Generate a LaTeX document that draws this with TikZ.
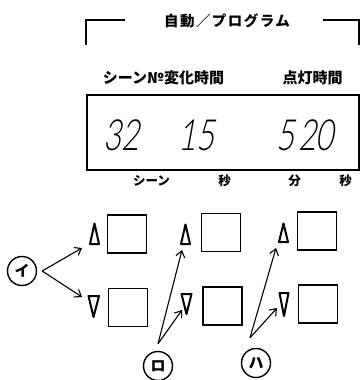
\documentclass[tikz,border=0pt]{standalone}
\usepackage{fontspec}
\newfontfamily\jp{Noto Sans CJK JP}
\newfontfamily\jpw{Noto Sans CJK JP}[LetterSpace=10]
\newfontfamily\segfont{Lato Light}[FakeSlant=0.18,FakeStretch=0.72]
\usetikzlibrary{arrows.meta}
\begin{document}
\begin{tikzpicture}[x=1pt,y=-1pt,
  jp/.style={font=\jp\bfseries\fontsize{15}{15}\selectfont, inner sep=0},
  jps/.style={font=\jp\bfseries\fontsize{12.5}{12.5}\selectfont, inner sep=0},
  key/.style={draw, line width=1.8pt, minimum width=39pt, minimum height=38pt, inner sep=0},
  tri/.style={line width=2pt, line join=round},
  lab/.style={draw, circle, line width=1.4pt, minimum size=29pt, inner sep=0, font=\jp\bfseries\fontsize{15}{15}\selectfont},
  arr/.style={-{Straight Barb[length=6pt,width=9pt]}, line width=1.1pt},
  seg/.style={font=\segfont\fontsize{43}{43}\selectfont, inner sep=0},
  brk/.style={line width=2pt}]
\useasboundingbox (0,0) rectangle (361,380);
% bracket and title
\draw[brk] (86,45) -- (86,20) -- (125,20);
\draw[brk] (323,20) -- (359,20) -- (359,45);
\node[font=\jpw\bfseries\fontsize{14.5}{14.5}\selectfont, inner sep=0] (title) at (227,21) {自動／プログラム};
% display labels
\node[jp] (lab1) at (163.5,78) {シーン№変化時間};
\node[jp] (lab2) at (312.5,78) {点灯時間};
\node[draw, line width=1.8pt, minimum width=272pt, minimum height=75pt, inner sep=0] (disp) at (223,132.5) {};
\node[seg] (d1) at (121.5,135) {32};
\node[seg] (d2) at (196.5,135) {15};
\node[seg] (d3) at (305,135) {5\kern4pt20};
\node[jps] (u1) at (151.5,181) {シーン};
\node[jps] (u2) at (224.5,181) {秒};
\node[jps] (u3) at (294.5,181) {分};
\node[jps] (u4) at (345.5,181) {秒};
% keys
\node[key] (k1) at (127,234) {};
\node[key] (k2) at (221,232.5) {};
\node[key] (k3) at (317,231) {};
\node[key] (k4) at (128,307.5) {};
\node[key] (k5) at (222.5,306) {};
\node[key] (k6) at (318,304) {};
% triangles
\draw[tri] (94.5,223.5) -- (99,244) -- (90,244) -- cycle;
\draw[tri] (185.5,224.5) -- (190,244) -- (181,244) -- cycle;
\draw[tri] (283.5,223.5) -- (288,242) -- (279,242) -- cycle;
\draw[tri] (88.5,296) -- (99,296) -- (93.5,317) -- cycle;
\draw[tri] (181.5,294) -- (191.5,294) -- (186.5,314) -- cycle;
\draw[tri] (279.5,293) -- (288.5,293) -- (284,316) -- cycle;
% circled labels
\node[lab] (i) at (22,271) {イ};
\node[lab] (ro) at (158,366) {ロ};
\node[lab] (ha) at (256,363) {ハ};
% arrow targets
\coordinate (t1) at (82,248);
\coordinate (t2) at (82,297);
\coordinate (t3) at (182,250);
\coordinate (t4) at (182,310);
\coordinate (t5) at (276,248);
\coordinate (t6) at (277,308);
\coordinate (si) at ([xshift=5pt]i.east);
\coordinate (sro) at ([yshift=7pt]ro.north);
\coordinate (sha) at ([xshift=-6pt,yshift=10pt]ha.north);
\draw[arr] (si) -- (t1);
\draw[arr] (si) -- (t2);
\draw[arr] (sro) -- (t3);
\draw[arr] (sro) -- (t4);
\draw[arr] (sha) -- (t5);
\draw[arr] (sha) -- (t6);
\end{tikzpicture}
\end{document}
